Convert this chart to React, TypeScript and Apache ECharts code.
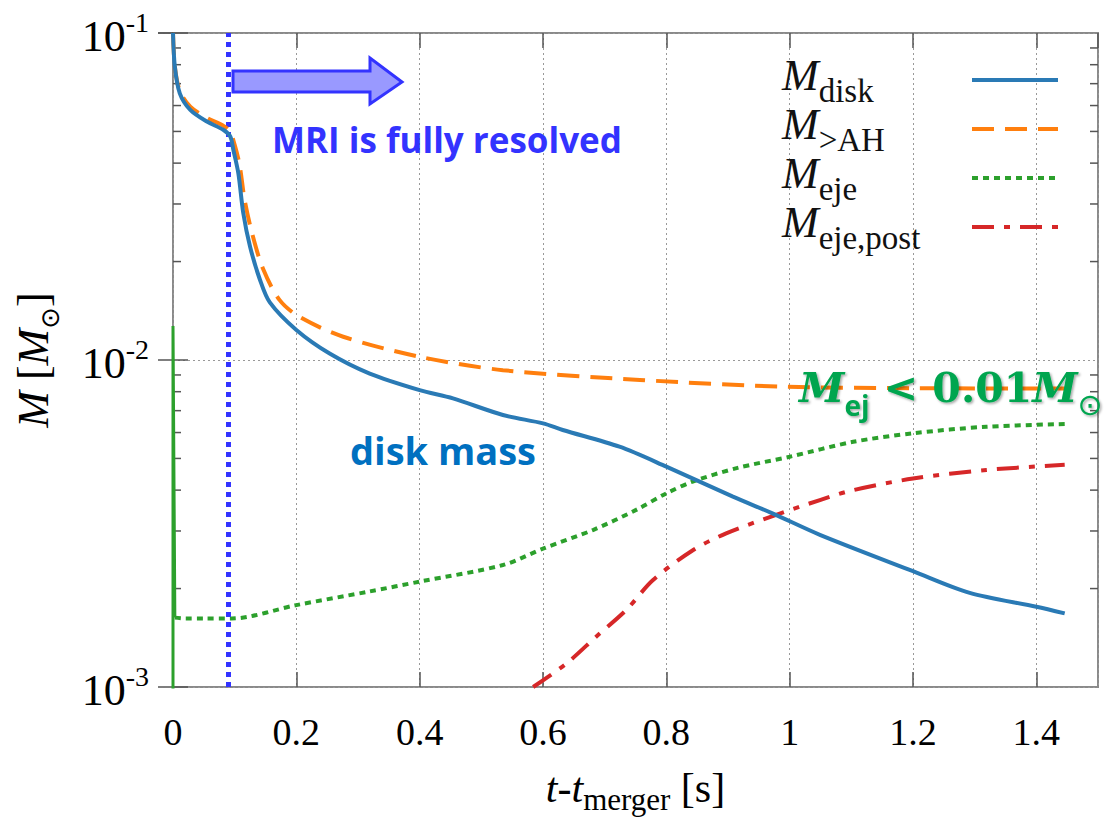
import React, { useEffect, useRef } from 'react';
import * as echarts from 'echarts';

// ---------- data ----------
const tDisk = [0, 0.003, 0.011, 0.028, 0.055, 0.082, 0.093, 0.098, 0.106, 0.114, 0.125, 0.141, 0.157, 0.2, 0.254, 0.319, 0.4, 0.454, 0.535, 0.6, 0.632, 0.724, 0.8, 0.908, 0.973, 1.049, 1.2, 1.292, 1.4, 1.446];
const mDisk = [0.1, 0.0788, 0.0654, 0.0582, 0.0536, 0.0505, 0.0482, 0.0438, 0.0372, 0.0281, 0.0222, 0.0176, 0.0150, 0.01236, 0.01047, 0.00909, 0.00809, 0.00763, 0.00679, 0.0064, 0.00611, 0.00543, 0.00472, 0.00382, 0.00339, 0.00292, 0.00226, 0.00194, 0.00176, 0.00168];

const tAH = [0, 0.003, 0.011, 0.028, 0.055, 0.082, 0.093, 0.1, 0.108, 0.116, 0.128, 0.146, 0.173, 0.205, 0.276, 0.4, 0.535, 0.757, 0.995, 1.2, 1.446];
const mAH = [0.1, 0.079, 0.0665, 0.0595, 0.055, 0.052, 0.0497, 0.0455, 0.0395, 0.031, 0.0245, 0.019, 0.01524, 0.01355, 0.01178, 0.01023, 0.00931, 0.00869, 0.00828, 0.0082, 0.00818];

const tEjeSpike = [0, 0, 0.003];
const mEjeSpike = [0.0008, 0.0127, 0.00163];

const tEje = [0.003, 0.02, 0.05, 0.095, 0.2, 0.319, 0.4, 0.535, 0.6, 0.681, 0.751, 0.8, 0.843, 0.914, 1.0, 1.103, 1.2, 1.319, 1.446];
const mEje = [0.00163, 0.00162, 0.00162, 0.00162, 0.00178, 0.00196, 0.0021, 0.00236, 0.00265, 0.00302, 0.00348, 0.00391, 0.00425, 0.00467, 0.00506, 0.00562, 0.00597, 0.00625, 0.00637];

const tPost = [0.584, 0.638, 0.687, 0.735, 0.778, 0.843, 0.897, 0.962, 1.049, 1.103, 1.2, 1.319, 1.446];
const mPost = [0.001, 0.00118, 0.00143, 0.00172, 0.00212, 0.00262, 0.00295, 0.00328, 0.00373, 0.004, 0.00434, 0.00461, 0.00478];

const MRI_T = 0.093;
const X_MIN = 0;
const X_MAX = 1.5;
const X_INTERVAL = 0.2;
const Y_MIN = 0.001;
const Y_MAX = 0.1;
const minorTickValues = [0.002, 0.003, 0.004, 0.005, 0.006, 0.007, 0.008, 0.009, 0.02, 0.03, 0.04, 0.05, 0.06, 0.07, 0.08, 0.09];

const legendNames = ['M_disk', 'M_>AH', 'M_eje', 'M_eje,post'];
const legendRich: Record<string, string> = {
  'M_disk': '{m|M}{s|disk}',
  'M_>AH': '{m|M}{s|>AH}',
  'M_eje': '{m|M}{s|eje}',
  'M_eje,post': '{m|M}{s|eje,post}',
};

const SERIF = 'Liberation Serif, DejaVu Serif, serif';
const SANS = 'Open Sans, Noto Sans, sans-serif';

const C_BLUE = '#2a7ab5';
const C_ORANGE = '#ff7f0e';
const C_GREEN = '#2ca02c';
const C_RED = '#d62728';

const zip = (t: number[], m: number[]) => t.map((x, i) => [x, m[i]]);

export default function App() {
  const ref = useRef<HTMLDivElement>(null);
  useEffect(() => {
    const chart = echarts.init(ref.current!, null, { renderer: 'svg' });
    const tickStyle = { color: '#555', width: 1.5 };
    const option: any = {
      animation: false,
      backgroundColor: '#ffffff',
      grid: {
        left: 173, top: 33, right: 16, bottom: 137,
        show: true, borderColor: '#8a8a8a', borderWidth: 2, backgroundColor: 'transparent',
      },
      legend: {
        data: legendNames,
        orient: 'vertical',
        left: 777,
        top: 48,
        align: 'right',
        itemWidth: 86,
        itemHeight: 14,
        itemGap: -5,
        selectedMode: false,
        lineStyle: { width: 4 },
        itemStyle: { opacity: 0, borderWidth: 0 },
        formatter: (name: string) => legendRich[name],
        textStyle: {
          width: 185,
          color: '#111',
          rich: {
            m: { fontFamily: SERIF, fontStyle: 'italic', fontSize: 44, verticalAlign: 'top', lineHeight: 54, align: 'left' },
            s: { fontFamily: SERIF, fontSize: 33, verticalAlign: 'bottom', lineHeight: 54, align: 'left' },
          },
        },
      },
      xAxis: [
        {
          type: 'value', min: X_MIN, max: X_MAX, interval: X_INTERVAL,
          axisLine: { show: false },
          axisTick: { show: true, inside: true, length: 15, lineStyle: tickStyle },
          splitLine: { show: true, lineStyle: { color: '#999', width: 1, type: [2, 3] } },
          axisLabel: {
            margin: 26, color: '#000', fontFamily: SERIF, fontSize: 38, showMaxLabel: false,
            formatter: (v: number) => (v >= X_MAX - 1e-9 ? '' : String(+v.toFixed(1))),
          },
          name: '{i|t}{r|-}{i|t}{s|merger}{r| [s]}',
          nameLocation: 'middle',
          nameGap: 80,
          nameTextStyle: {
            color: '#000',
            rich: {
              i: { fontFamily: SERIF, fontStyle: 'italic', fontSize: 42, verticalAlign: 'top', lineHeight: 48, color: '#000' },
              r: { fontFamily: SERIF, fontSize: 42, verticalAlign: 'top', lineHeight: 48, color: '#000' },
              s: { fontFamily: SERIF, fontSize: 31, verticalAlign: 'bottom', color: '#000' },
            },
          },
        },
        {
          type: 'value', position: 'top', min: X_MIN, max: X_MAX, interval: X_INTERVAL,
          axisLine: { show: false },
          axisTick: { show: true, inside: true, length: 15, lineStyle: tickStyle },
          splitLine: { show: false },
          axisLabel: { show: false },
        },
      ],
      yAxis: [
        {
          type: 'log', logBase: 10, min: Y_MIN, max: Y_MAX,
          axisLine: { show: false },
          axisTick: { show: true, inside: true, length: 15, lineStyle: tickStyle },
          splitLine: { show: true, lineStyle: { color: '#999', width: 1, type: [2, 3] } },
          axisLabel: {
            margin: 24, color: '#000',
            formatter: (v: number) => '{b|10}{p|' + String(Math.round(Math.log10(v))) + '}',
            rich: {
              b: { fontFamily: SERIF, fontSize: 44, verticalAlign: 'bottom', lineHeight: 50, color: '#000' },
              p: { fontFamily: SERIF, fontSize: 28, verticalAlign: 'top', color: '#000' },
            },
          },
          name: '{m|M}{r| [}{m|M}{s|⊙}{r|]}',
          nameLocation: 'middle',
          nameGap: 110,
          nameTextStyle: {
            color: '#000',
            rich: {
              m: { fontFamily: SERIF, fontStyle: 'italic', fontSize: 44, verticalAlign: 'top', lineHeight: 52, color: '#000' },
              r: { fontFamily: SERIF, fontSize: 44, verticalAlign: 'top', lineHeight: 52, color: '#000' },
              s: { fontFamily: 'DejaVu Sans, sans-serif', fontSize: 26, verticalAlign: 'bottom', color: '#000' },
            },
          },
        },
        {
          type: 'log', logBase: 10, min: Y_MIN, max: Y_MAX, position: 'right',
          axisLine: { show: false },
          axisTick: { show: true, inside: true, length: 15, lineStyle: tickStyle },
          splitLine: { show: false },
          axisLabel: { show: false },
        },
      ],
      series: [
        {
          name: 'minor', type: 'custom', silent: true, clip: false, z: 1,
          xAxisIndex: 0, yAxisIndex: 0,
          data: minorTickValues.map((v) => [X_MIN, v]),
          renderItem: (_p: any, api: any) => {
            const v = api.value(1);
            const pl = api.coord([X_MIN, v]);
            const pr = api.coord([X_MAX, v]);
            const st = { stroke: '#555', lineWidth: 1.5 };
            return {
              type: 'group',
              children: [
                { type: 'line', shape: { x1: pl[0], y1: pl[1], x2: pl[0] + 8, y2: pl[1] }, style: st },
                { type: 'line', shape: { x1: pr[0], y1: pr[1], x2: pr[0] - 8, y2: pr[1] }, style: st },
              ],
            };
          },
        },
        {
          name: 'M_disk', type: 'line', data: zip(tDisk, mDisk), showSymbol: false, symbol: 'none', smooth: 0.3, z: 6,
          lineStyle: { color: C_BLUE, width: 4 }, itemStyle: { color: C_BLUE },
          markLine: {
            silent: true, symbol: 'none', label: { show: false },
            lineStyle: { color: '#3333ff', width: 5, type: [5, 5] },
            data: [{ xAxis: MRI_T }],
          },
        },
        {
          name: 'M_>AH', type: 'line', data: zip(tAH, mAH), showSymbol: false, symbol: 'none', smooth: 0.3, z: 5,
          lineStyle: { color: C_ORANGE, width: 4, type: [22, 11] }, itemStyle: { color: C_ORANGE },
        },
        {
          name: 'spike', type: 'line', data: zip(tEjeSpike, mEjeSpike), showSymbol: false, symbol: 'none', z: 4,
          lineStyle: { color: C_GREEN, width: 3 }, itemStyle: { color: C_GREEN },
        },
        {
          name: 'M_eje', type: 'line', data: zip(tEje, mEje), showSymbol: false, symbol: 'none', smooth: 0.3, z: 4,
          lineStyle: { color: C_GREEN, width: 4, type: [6, 5] }, itemStyle: { color: C_GREEN },
        },
        {
          name: 'M_eje,post', type: 'line', data: zip(tPost, mPost), showSymbol: false, symbol: 'none', smooth: 0.3, z: 4,
          lineStyle: { color: C_RED, width: 4, type: [22, 10, 6, 10] }, itemStyle: { color: C_RED },
        },
      ],
      graphic: [
        {
          type: 'polygon', z: 20,
          shape: { points: [[233, 71], [370, 71], [370, 58], [402, 82], [370, 104], [370, 92], [233, 92]] },
          style: { fill: '#9999ff', stroke: '#3333ff', lineWidth: 3 },
        },
        {
          type: 'text', z: 20, x: 272, y: 139,
          style: { text: 'MRI is fully resolved', fill: '#3333ff', fontFamily: SANS, fontWeight: 'bold', fontSize: 35, verticalAlign: 'middle' },
        },
        {
          type: 'text', z: 20, x: 350, y: 450,
          style: { text: 'disk mass', fill: '#0070c0', fontFamily: SANS, fontWeight: 'bold', fontSize: 38, verticalAlign: 'middle' },
        },
        {
          type: 'text', z: 20, x: 799, y: 393,
          style: {
            text: '{m|M}{s|ej}{r| < 0.01}{m|M}{o|⊙}',
            fill: '#00a550',
            textShadowColor: 'rgba(0,0,0,0.35)', textShadowBlur: 2, textShadowOffsetX: 1.5, textShadowOffsetY: 1.5,
            verticalAlign: 'middle',
            rich: {
              m: { fontFamily: 'DejaVu Serif, serif', fontStyle: 'italic', fontWeight: 'bold', fontSize: 41, fill: '#00a550', verticalAlign: 'top', lineHeight: 52 },
              r: { fontFamily: 'DejaVu Serif, serif', fontWeight: 'bold', fontSize: 41, fill: '#00a550', verticalAlign: 'top', lineHeight: 52 },
              s: { fontFamily: SANS, fontWeight: 'bold', fontSize: 28, fill: '#00a550', verticalAlign: 'bottom' },
              o: { fontFamily: 'DejaVu Sans, sans-serif', fontSize: 30, fill: '#00a550', verticalAlign: 'bottom' },
            },
          },
        },
      ],
    };
    chart.setOption(option);
    return () => chart.dispose();
  }, []);
  return <div ref={ref} style={{ position: 'fixed', left: 0, top: 0, width: 1114, height: 824, background: '#fff' }} />;
}
